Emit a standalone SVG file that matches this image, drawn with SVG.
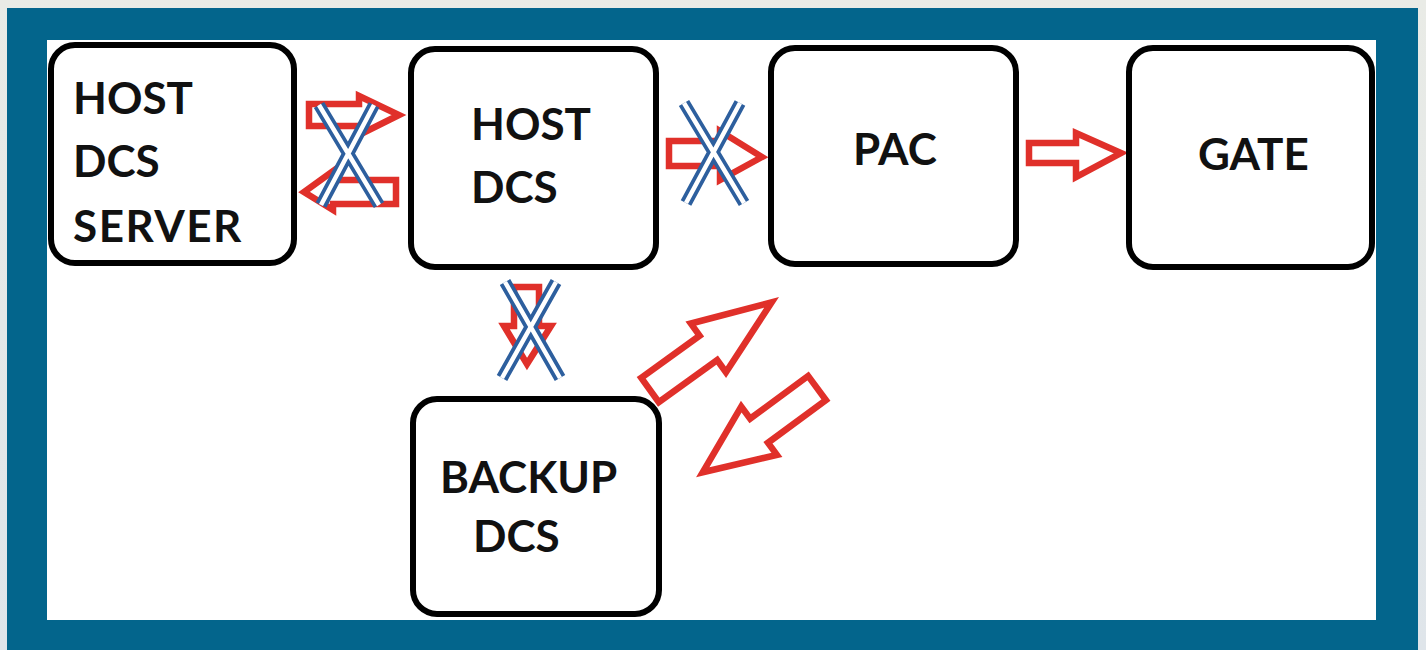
<svg xmlns="http://www.w3.org/2000/svg" width="1426" height="650" viewBox="0 0 1426 650">
<defs>
<style>
.box{fill:#fff;stroke:#000;stroke-width:6}
.lbl{font-family:Lato,"Open Sans","Liberation Sans",sans-serif;font-weight:bold;font-size:44px;fill:#111}
.arr{fill:#fff;stroke:#e0302a;stroke-width:6.5;stroke-linejoin:miter}
.xo{stroke:#2d5f9e;stroke-width:12;stroke-linecap:butt;fill:none}
.xi{stroke:#fff;stroke-width:4.5;stroke-linecap:butt;fill:none}
</style>
<linearGradient id="bg" x1="0" y1="0" x2="0" y2="1">
<stop offset="0" stop-color="#e9ebe6"/>
<stop offset="1" stop-color="#dfe5ea"/>
</linearGradient>
</defs>
<rect x="0" y="0" width="1426" height="650" fill="url(#bg)"/>
<rect x="7" y="8" width="1411" height="642" fill="#03658c"/>
<rect x="47" y="40" width="1329" height="580" fill="#fff"/>

<g id="connectors">
<g id="a1"><polygon class="arr" points="309,104 359,104 359,96 399,115 359,135 359,126 309,126"/></g>
<g id="a2"><polygon class="arr" points="396,180 333,180 333,171 304,192 333,210 333,204 396,204"/></g>
<g id="x1"><path class="xo" d="M319,105 L379,205 M374,105 L321,205"/><path class="xi" d="M319,105 L379,205 M374,105 L321,205"/></g>
<g id="a3"><polygon class="arr" points="669,141 720,141 720,131 762,157 720,180 720,166 669,166"/></g>
<g id="x2"><path class="xo" d="M684,103 L744,203 M740,103 L686,203"/><path class="xi" d="M684,103 L744,203 M740,103 L686,203"/></g>
<g id="a4"><polygon class="arr" points="1029,143 1076,143 1076,133 1121,153 1076,177 1076,163 1029,163"/></g>
<g id="a5"><polygon class="arr" points="514,287 539,287 539,326 551,326 527,364 504,326 514,326"/></g>
<g id="x3"><path class="xo" d="M505,282 L560,378 M556,282 L502,378"/><path class="xi" d="M505,282 L560,378 M556,282 L502,378"/></g>
<g id="a6" transform="translate(650,390) rotate(-35.8)"><polygon class="arr" points="0,-15 72,-15 72,-30 150,0 72,30 72,15 0,15"/></g>
<g id="a7" transform="translate(817,388) rotate(143.6)"><polygon class="arr" points="0,-15 72,-15 72,-30 142,0 72,30 72,15 0,15"/></g>
</g>

<g id="n1"><rect class="box" x="51" y="45" width="243" height="218" rx="24"/>
<text class="lbl" x="73" y="114">HOST</text><text class="lbl" x="73" y="177">DCS</text><text class="lbl" x="73" y="242" letter-spacing="1.5">SERVER</text></g>
<g id="n2"><rect class="box" x="411" y="49" width="245" height="218" rx="24"/>
<text class="lbl" x="471" y="140">HOST</text><text class="lbl" x="471" y="203">DCS</text></g>
<g id="n3"><rect class="box" x="771" y="48" width="245" height="216" rx="24"/>
<text class="lbl" x="853" y="165">PAC</text></g>
<g id="n4"><rect class="box" x="1129" y="48" width="243" height="219" rx="24"/>
<text class="lbl" x="1198" y="170">GATE</text></g>
<g id="n5"><rect class="box" x="413" y="399" width="246" height="215" rx="24"/>
<text class="lbl" x="440" y="493">BACKUP</text><text class="lbl" x="473" y="552">DCS</text></g>
</svg>
